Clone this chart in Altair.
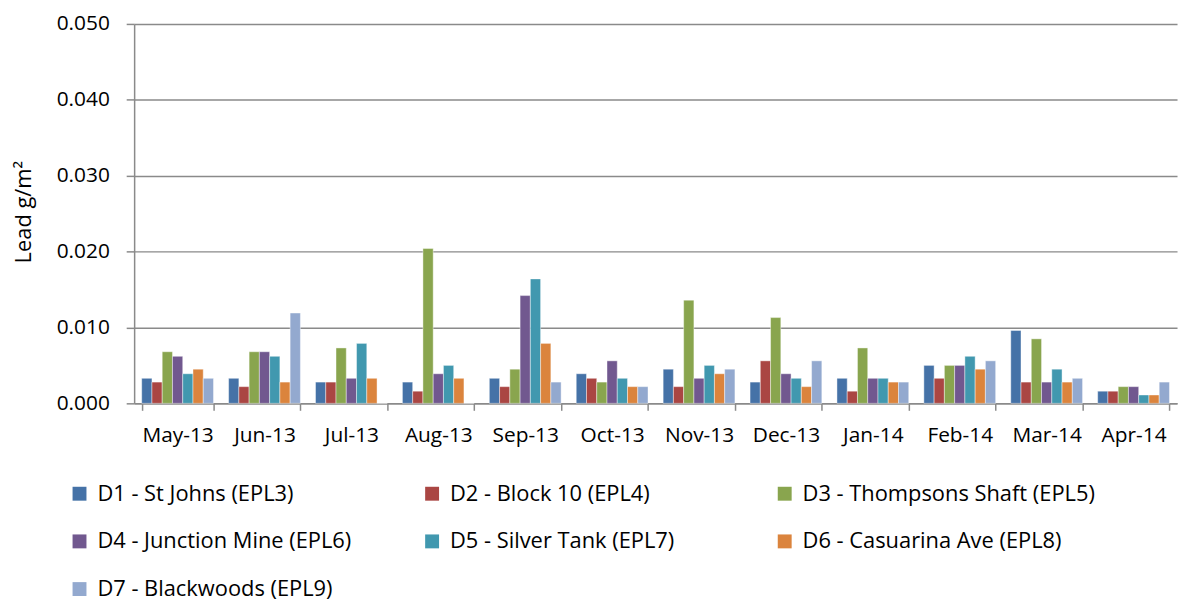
import altair as alt
import pandas as pd

months = ["May-13", "Jun-13", "Jul-13", "Aug-13", "Sep-13", "Oct-13",
          "Nov-13", "Dec-13", "Jan-14", "Feb-14", "Mar-14", "Apr-14"]
series = ["D1 - St Johns (EPL3)", "D2 - Block 10 (EPL4)", "D3 - Thompsons Shaft (EPL5)",
          "D4 - Junction Mine (EPL6)", "D5 - Silver Tank (EPL7)", "D6 - Casuarina Ave (EPL8)",
          "D7 - Blackwoods (EPL9)"]
colors = ["#4572A7", "#AA4643", "#89A54E", "#71588F", "#4198AF", "#DB843D", "#93A9CF"]

d1 = [0.0033, 0.0033, 0.0028, 0.0028, 0.0033, 0.0039, 0.0045, 0.0028, 0.0033, 0.0050, 0.0096, 0.0016]
d2 = [0.0028, 0.0022, 0.0028, 0.0016, 0.0022, 0.0033, 0.0022, 0.0056, 0.0016, 0.0033, 0.0028, 0.0016]
d3 = [0.0068, 0.0068, 0.0073, 0.0204, 0.0045, 0.0028, 0.0136, 0.0113, 0.0073, 0.0050, 0.0085, 0.0022]
d4 = [0.0062, 0.0068, 0.0033, 0.0039, 0.0142, 0.0056, 0.0033, 0.0039, 0.0033, 0.0050, 0.0028, 0.0022]
d5 = [0.0039, 0.0062, 0.0079, 0.0050, 0.0164, 0.0033, 0.0050, 0.0033, 0.0033, 0.0062, 0.0045, 0.0011]
d6 = [0.0045, 0.0028, 0.0033, 0.0033, 0.0079, 0.0022, 0.0039, 0.0022, 0.0028, 0.0045, 0.0028, 0.0011]
d7 = [0.0033, 0.0119, 0.0, 0.0, 0.0028, 0.0022, 0.0045, 0.0056, 0.0028, 0.0056, 0.0033, 0.0028]

all_vals = [d1, d2, d3, d4, d5, d6, d7]
rows = []
for s, vals in zip(series, all_vals):
    for m, v in zip(months, vals):
        rows.append({"month": m, "series": s, "value": v})
df = pd.DataFrame(rows)

FONT = "Open Sans"
GREY = "#8a8a8a"

chart = alt.Chart(df).mark_bar(stroke="white", strokeWidth=0.6, strokeOpacity=0.7).encode(
    x=alt.X("month:N", sort=months,
            scale=alt.Scale(paddingInner=0.174, paddingOuter=0.087),
            axis=alt.Axis(title=None, labelAngle=0, tickBand="extent", tickSize=7,
                          tickColor=GREY, tickWidth=1.5, domainColor=GREY, domainWidth=1.5,
                          labelFont=FONT, labelFontSize=21, labelColor="#000000",
                          labelPadding=14, grid=False)),
    xOffset=alt.XOffset("series:N", sort=series, scale=alt.Scale(paddingInner=0, paddingOuter=0)),
    y=alt.Y("value:Q", scale=alt.Scale(domain=[0, 0.05], nice=False),
            axis=alt.Axis(title="Lead g/m²", values=[0, 0.01, 0.02, 0.03, 0.04, 0.05],
                          format=".3f", grid=True, gridColor=GREY, gridWidth=1.5,
                          domainColor=GREY, domainWidth=1.5, tickColor=GREY, tickWidth=1.5,
                          tickSize=8, labelFont=FONT, labelFontSize=21, labelColor="#000000",
                          labelPadding=17, titleFont=FONT, titleFontSize=22,
                          titleFontWeight="normal", titleColor="#000000",
                          titleX=-111, titleY=189, titleAngle=-90,
                          titleAlign="center", titleBaseline="middle")),
    color=alt.Color("series:N", sort=series,
                    scale=alt.Scale(domain=series, range=colors),
                    legend=alt.Legend(title=None, orient="none", legendX=-66, legendY=462,
                                      direction="horizontal", columns=3, gridAlign="all",
                                      symbolType="square", symbolSize=196, symbolStrokeWidth=0,
                                      labelFont=FONT, labelFontSize=22, labelColor="#000000",
                                      labelOffset=7, labelLimit=400,
                                      columnPadding=31, rowPadding=26)),
).properties(
    width=1050, height=382,
    autosize=alt.AutoSizeParams(type="none"),
    padding={"left": 127, "top": 14, "right": 4, "bottom": 201},
).configure_view(stroke=None)

chart.save("out.html", embed_options={"renderer": "svg", "actions": False})
